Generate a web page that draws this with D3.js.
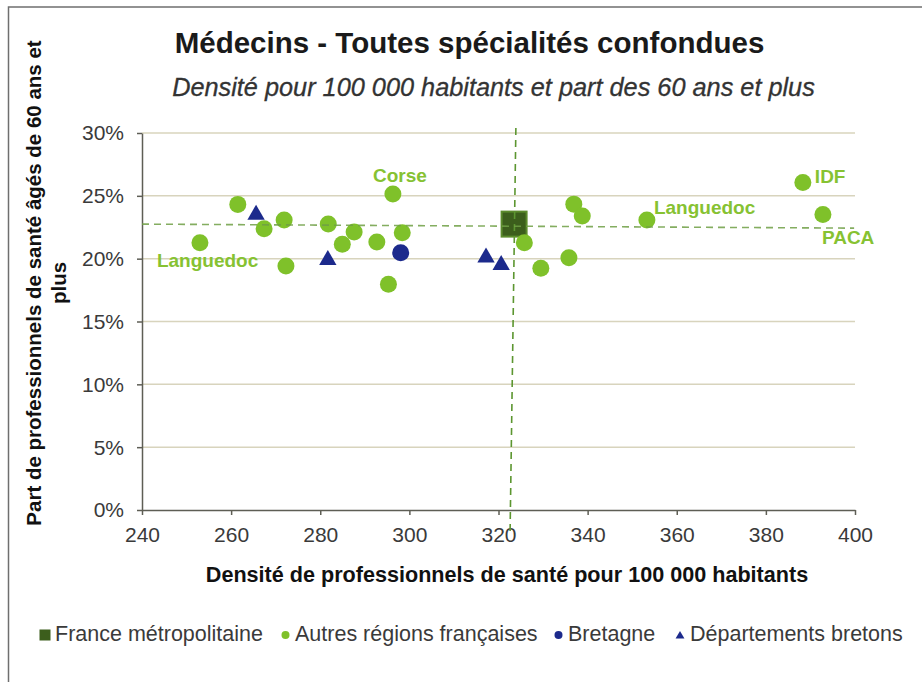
<!DOCTYPE html>
<html><head><meta charset="utf-8">
<script src="https://cdn.jsdelivr.net/npm/d3@7"></script>
<style>
html,body{margin:0;padding:0;background:#fff;}
svg{display:block;font-family:"Liberation Sans",Arial,sans-serif;}
</style></head>
<body>
<svg id="chart" width="922" height="682"></svg>
<script>
// ---- Data ----
const xTicks = [240, 260, 280, 300, 320, 340, 360, 380, 400];
const yTicks = [0, 0.05, 0.10, 0.15, 0.20, 0.25, 0.30];

const france = [{x: 323.5, y: 0.2275}];
const autresRegionsX = [253.0, 261.5, 267.4, 271.9, 272.3, 281.8, 284.95, 287.6, 292.7, 296.3, 298.4, 295.3, 325.8, 329.5, 335.8, 336.9, 338.8, 353.3, 388.3, 392.8];
const autresRegionsY = [0.2127, 0.2432, 0.2238, 0.2307, 0.1941, 0.2275, 0.2114, 0.2212, 0.2132, 0.2514, 0.2206, 0.1796, 0.2127, 0.1923, 0.2007, 0.2434, 0.2339, 0.2307, 0.2607, 0.2352];
const autresRegionsNom = ["Languedoc", "", "", "", "", "", "", "", "", "Corse", "", "", "", "", "", "", "", "Languedoc", "IDF", "PACA"];
const bretagne = [{x: 298.05, y: 0.2047}];
const departementsX = [265.6, 281.7, 317.2, 320.6];
const departementsY = [0.235, 0.199, 0.201, 0.195];

// reference lines (France métropolitaine)
const refVertical = [{x: 323.9, y: 0.304}, {x: 322.6, y: -0.0175}];
const refHorizontal = [{x: 240.0, y: 0.2275}, {x: 399.8, y: 0.2243}];

const legendLabels = ["France métropolitaine", "Autres régions françaises", "Bretagne", "Départements bretons"];

// ---- Styles ----
const cGreen = "#7fc12a", cNavy = "#1c2a8c", cSquare = "#3c5e1c", cSquareStroke = "#5b8a2c";
const cLabel = "#86c232";

const svg = d3.select("#chart");
const x = d3.scaleLinear().domain([240, 400]).range([142, 855]);
const y = d3.scaleLinear().domain([0, 0.30]).range([510, 133]);

// frame
svg.append("rect").attr("x", 8.5).attr("y", 7).attr("width", 940).attr("height", 700)
  .attr("fill", "none").attr("stroke", "#6f6f6f").attr("stroke-width", 1.5);

// titles
svg.append("text").attr("x", 469.5).attr("y", 53).attr("text-anchor", "middle")
  .attr("font-size", 29.5).attr("font-weight", "bold").attr("fill", "#1a1a1a")
  .text("Médecins - Toutes spécialités confondues");
svg.append("text").attr("x", 493.5).attr("y", 95.5).attr("text-anchor", "middle")
  .attr("font-size", 25.3).attr("font-style", "italic").attr("fill", "#333")
  .attr("stroke", "#333").attr("stroke-width", 0.3)
  .text("Densité pour 100 000 habitants et part des 60 ans et plus");

// gridlines
svg.append("g").selectAll("line").data(yTicks.filter(d => d > 0)).join("line")
  .attr("x1", x(240)).attr("x2", x(400)).attr("y1", d => y(d)).attr("y2", d => y(d))
  .attr("stroke", "#d8d4bd").attr("stroke-width", 1.5);

// axes
const xAxis = svg.append("g").attr("transform", `translate(0,${y(0)})`)
  .call(d3.axisBottom(x).tickValues(xTicks).tickSize(5).tickSizeOuter(0).tickPadding(12));
const yAxis = svg.append("g").attr("transform", `translate(${x(240)},0)`)
  .call(d3.axisLeft(y).tickValues(yTicks).tickSize(5).tickSizeOuter(0).tickPadding(13).tickFormat(d3.format(".0%")));
[xAxis, yAxis].forEach(g => {
  g.select(".domain").attr("stroke", "#5e5e55").attr("stroke-width", 1.5);
  g.selectAll(".tick line").attr("stroke", "#5e5e55").attr("stroke-width", 1.5);
  g.selectAll(".tick text").attr("font-size", 21).attr("fill", "#3a3a3a")
    .attr("font-family", "'Liberation Sans',Arial,sans-serif");
});
yAxis.selectAll(".tick text").attr("dy", "0.33em");

// axis titles
svg.append("text").attr("x", 507).attr("y", 582).attr("text-anchor", "middle")
  .attr("font-size", 21.6).attr("font-weight", "bold").attr("fill", "#111")
  .text("Densité de professionnels de santé pour 100 000 habitants");
const yl = svg.append("text").attr("transform", "translate(41,283) rotate(-90)")
  .attr("text-anchor", "middle").attr("font-size", 20.5).attr("font-weight", "bold").attr("fill", "#111");
yl.append("tspan").attr("x", 0).attr("y", 0).text("Part de professionnels de santé âgés de 60 ans et");
yl.append("tspan").attr("x", 0).attr("y", 25).text("plus");

// points
const regions = autresRegionsX.map((v, i) => ({x: v, y: autresRegionsY[i], nom: autresRegionsNom[i]}));
const depts = departementsX.map((v, i) => ({x: v, y: departementsY[i]}));

svg.append("g").selectAll("rect").data(france).join("rect")
  .attr("x", d => x(d.x) - 12.5).attr("y", d => y(d.y) - 12.5).attr("width", 25).attr("height", 25)
  .attr("fill", cSquare).attr("stroke", cSquareStroke).attr("stroke-width", 2);

svg.append("g").selectAll("circle").data(regions).join("circle")
  .attr("cx", d => x(d.x)).attr("cy", d => y(d.y)).attr("r", 8.5).attr("fill", cGreen);

svg.append("g").selectAll("circle").data(bretagne).join("circle")
  .attr("cx", d => x(d.x)).attr("cy", d => y(d.y)).attr("r", 8.5).attr("fill", cNavy);

const tri = d3.symbol().type(d3.symbolTriangle).size(130);
svg.append("g").selectAll("path").data(depts).join("path")
  .attr("d", tri).attr("transform", d => `translate(${x(d.x)},${y(d.y)})`).attr("fill", cNavy);

// reference lines
const line = d3.line().x(d => x(d.x)).y(d => y(d.y));
svg.append("path").attr("d", line(refVertical)).attr("fill", "none")
  .attr("stroke", "#5c9630").attr("stroke-width", 1.6).attr("stroke-dasharray", "7,5");
svg.append("path").attr("d", line(refHorizontal)).attr("fill", "none")
  .attr("stroke", "#6e9f44").attr("stroke-width", 1.6).attr("stroke-dasharray", "7,5").attr("opacity", 0.85);

// point labels (offsets in px)
const labelOffsets = {0: [-43, 24, "start"], 9: [7, -12, "middle"], 17: [7, -6, "start"], 18: [12, 1, "start"], 19: [-1, 30, "start"]};
svg.append("g").selectAll("text").data(regions.map((d, i) => ({...d, i})).filter(d => d.nom)).join("text")
  .attr("x", d => x(d.x) + labelOffsets[d.i][0]).attr("y", d => y(d.y) + labelOffsets[d.i][1])
  .attr("text-anchor", d => labelOffsets[d.i][2])
  .attr("font-size", 19).attr("font-weight", "bold").attr("fill", cLabel).text(d => d.nom);

// legend
const legMarkX = [45, 285.5, 558.5, 680];
const legTextX = [55, 295, 568, 690];
const legY = 641;
const lg = svg.append("g");
legendLabels.forEach((t, i) => {
  const cx = legMarkX[i], cy = 635;
  if (i === 0) lg.append("rect").attr("x", cx - 5.5).attr("y", cy - 5.5).attr("width", 11).attr("height", 11).attr("fill", cSquare);
  else if (i === 1) lg.append("circle").attr("cx", cx).attr("cy", cy).attr("r", 4).attr("fill", cGreen);
  else if (i === 2) lg.append("circle").attr("cx", cx).attr("cy", cy).attr("r", 4).attr("fill", cNavy);
  else lg.append("path").attr("d", d3.symbol().type(d3.symbolTriangle).size(34)).attr("transform", `translate(${cx},${cy + 1})`).attr("fill", cNavy);
  lg.append("text").attr("x", legTextX[i]).attr("y", legY).attr("font-size", 21.5).attr("fill", "#3a3a3a").text(t);
});
</script>
</body></html>
